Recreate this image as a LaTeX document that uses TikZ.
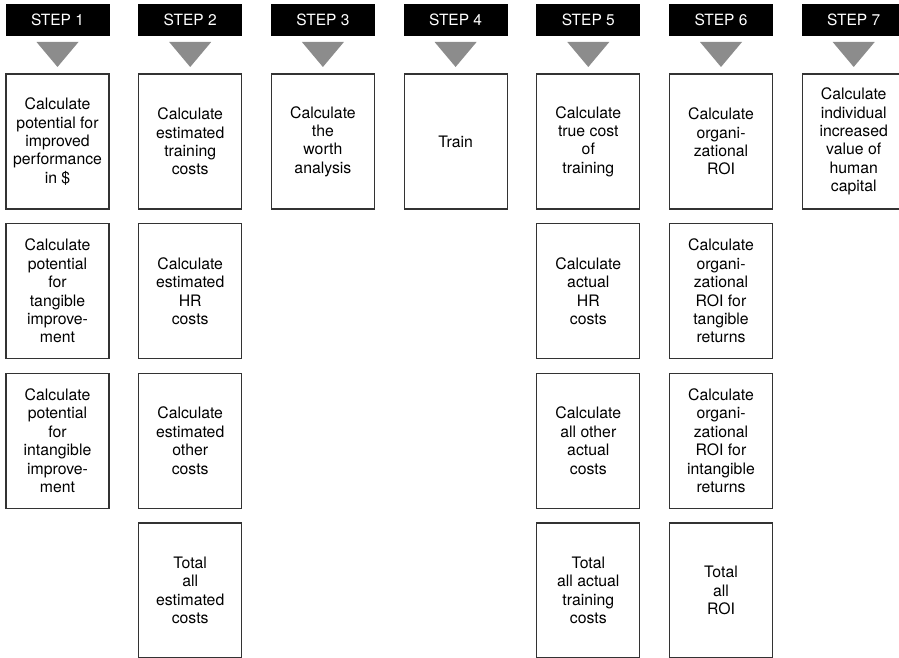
\documentclass[tikz,border=0pt]{standalone}
\usepackage{fontspec}
\setmainfont{TeX Gyre Heros}
\begin{document}
\begin{tikzpicture}[x=1pt,y=-1pt,
  stephead/.style={fill=black,text=white,minimum width=104pt,minimum height=32pt,
    inner sep=0pt,font=\fontsize{15.5}{18.3}\selectfont},
  stepbox/.style={draw=black!80,line width=1.2pt,fill=white,minimum width=103pt,
    minimum height=135pt,inner sep=0pt,align=center,
    font=\fontsize{15.8}{18.4}\selectfont},
  pointer/.style={fill=black!45}]
\useasboundingbox (0,0) rectangle (899,658);

% step headers with their downward pointers
\foreach \i in {1,...,7}{
  \pgfmathsetmacro{\cx}{57.5+132.7*(\i-1)}
  \node[stephead] (hdr\i) at (\cx,20) {STEP \i};
  \fill[pointer] (\cx-21,42) -- (\cx+21,42) -- (\cx,67) -- cycle;
}

% step 1
\node[stepbox] (b11) at (57.5,141.5) {Calculate\\potential for\\improved\\performance\\in \$};
\node[stepbox] (b12) at (57.5,291.2) {Calculate\\potential\\for\\tangible\\improve-\\ment};
\node[stepbox] (b13) at (57.5,440.8) {Calculate\\potential\\for\\intangible\\improve-\\ment};

% step 2
\node[stepbox] (b21) at (190.2,141.5) {Calculate\\estimated\\training\\costs};
\node[stepbox] (b22) at (190.2,291.2) {Calculate\\estimated\\HR\\costs};
\node[stepbox] (b23) at (190.2,440.8) {Calculate\\estimated\\other\\costs};
\node[stepbox] (b24) at (190.2,590.5) {Total\\all\\estimated\\costs};

% step 3
\node[stepbox] (b31) at (322.9,141.5) {Calculate\\the\\worth\\analysis};

% step 4
\node[stepbox] (b41) at (455.6,141.5) {Train};

% step 5
\node[stepbox] (b51) at (588.3,141.5) {Calculate\\true cost\\of\\training};
\node[stepbox] (b52) at (588.3,291.2) {Calculate\\actual\\HR\\costs};
\node[stepbox] (b53) at (588.3,440.8) {Calculate\\all other\\actual\\costs};
\node[stepbox] (b54) at (588.3,590.5) {Total\\all actual\\training\\costs};

% step 6
\node[stepbox] (b61) at (721.0,141.5) {Calculate\\organi-\\zational\\ROI};
\node[stepbox] (b62) at (721.0,291.2) {Calculate\\organi-\\zational\\ROI for\\tangible\\returns};
\node[stepbox] (b63) at (721.0,440.8) {Calculate\\organi-\\zational\\ROI for\\intangible\\returns};
\node[stepbox] (b64) at (721.0,590.5) {Total\\all\\ROI};

% step 7
\node[stepbox] (b71) at (853.7,141.5) {Calculate\\individual\\increased\\value of\\human\\capital};
\end{tikzpicture}
\end{document}
